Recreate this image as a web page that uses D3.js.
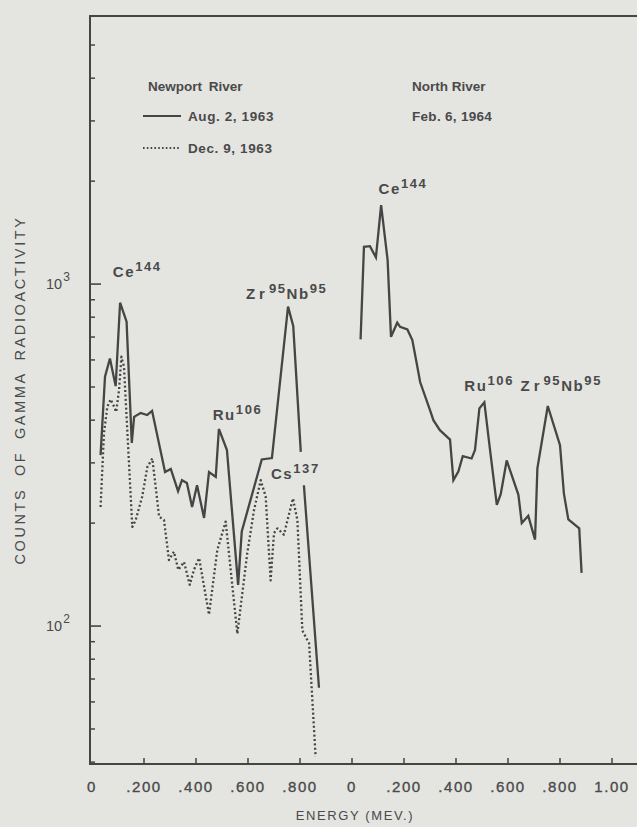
<!DOCTYPE html>
<html>
<head>
<meta charset="utf-8">
<script src="https://cdn.jsdelivr.net/npm/d3@7"></script>
<style>
  html, body { margin: 0; padding: 0; background: #e4e4e1; }
  svg { display: block; }
  text { font-family: "Liberation Sans", Arial, Helvetica, sans-serif; fill: #4a4a4a; }
</style>
</head>
<body>
<svg id="chart" width="637" height="827"></svg>
<script>
// ---------- DATA ----------
// Newport River, Aug. 2, 1963 (solid) — energy (MeV) / counts; null = break in the trace
const augEnergy = [0.033,0.050,0.069,0.091,0.108,0.133,0.153,0.162,0.187,0.212,0.231,0.281,0.303,0.331,0.346,0.365,0.385,0.404,0.431,0.450,0.476,0.488,0.519,0.562,0.576,0.653,0.692,0.754,0.774,0.803,0.809,0.815,0.873];
const augCounts = [316,536,606,503,882,776,343,409,420,414,426,282,288,248,267,262,223,258,207,282,273,377,327,132,189,307,310,859,754,323,null,258,66];

// Newport River, Dec. 9, 1963 (dotted)
const decEnergy = [0.033,0.046,0.059,0.072,0.085,0.093,0.104,0.113,0.123,0.155,0.168,0.193,0.213,0.232,0.245,0.258,0.277,0.296,0.315,0.332,0.354,0.376,0.392,0.412,0.450,0.482,0.514,0.559,0.597,0.623,0.649,0.668,0.687,0.700,0.713,0.738,0.773,0.790,0.809,0.835,0.860];
const decCounts  = [223,366,438,460,438,423,490,613,573,195,204,239,292,309,255,209,204,156,165,146,154,132,146,158,108,167,202,95,163,218,267,239,136,187,193,185,236,204,97,89,41.5];

// North River, Feb. 6, 1964 (solid, right panel)
const febEnergy = [0.033,0.046,0.069,0.092,0.112,0.137,0.150,0.174,0.185,0.213,0.232,0.249,0.262,0.300,0.313,0.338,0.377,0.390,0.409,0.426,0.460,0.473,0.490,0.509,0.531,0.557,0.572,0.595,0.640,0.653,0.678,0.704,0.713,0.753,0.800,0.815,0.832,0.874,0.883];
const febCounts  = [689,1285,1291,1197,1702,1175,701,771,750,737,686,586,517,428,400,374,351,267,283,314,309,327,433,451,327,226,243,305,242,200,210,179,289,440,338,244,205,193,143];

// Axis ticks
const leftTickValues  = [0, 0.2, 0.4, 0.6, 0.8];
const leftTickLabels  = ["0", ".200", ".400", ".600", ".800"];
const rightTickValues = [0, 0.2, 0.4, 0.6, 0.8, 1.0];
const rightTickLabels = ["0", ".200", ".400", ".600", ".800", "1.00"];
const yMinorTicks = [40,50,60,70,80,90,200,300,400,500,600,700,800,900,2000,3000,4000,5000];
const yMajorTicks = [100, 1000];
const yMajorLabels = [["10","2"],["10","3"]];

// Peak annotations: panel, energy, counts at label baseline start; parts [text, superscript?]
const peakLabels = [
  { panel: "L", e: 0.080, v: 1048, parts: [["Ce",false],["144",true]] },
  { panel: "L", e: 0.592, v: 905,  parts: [["Zr",false],["95",true],["Nb",false],["95",true]] },
  { panel: "L", e: 0.464, v: 400,  parts: [["Ru",false],["106",true]] },
  { panel: "L", e: 0.688, v: 270,  parts: [["Cs",false],["137",true]] },
  { panel: "R", e: 0.102, v: 1830, parts: [["Ce",false],["144",true]] },
  { panel: "R", e: 0.432, v: 488,  parts: [["Ru",false],["106",true]] },
  { panel: "R", e: 0.648, v: 488,  parts: [["Zr",false],["95",true],["Nb",false],["95",true]] }
];

// ---------- LAYOUT ----------
const ink = "#454545";
const frame = { left: 90, top: 16, right: 640, bottom: 764 };

const svg = d3.select("#chart");

const y = d3.scaleLog().domain([39.5, 6080]).range([frame.bottom, frame.top]);
const xL = d3.scaleLinear().domain([0, 1]).range([92, 352]);
const xR = d3.scaleLinear().domain([0, 1]).range([352, 612]);

// frame
svg.append("path")
  .attr("d", `M${frame.right},${frame.top} L${frame.left},${frame.top} L${frame.left},${frame.bottom} L${frame.right},${frame.bottom}`)
  .attr("fill", "none").attr("stroke", ink).attr("stroke-width", 2);

// y ticks (inside, pointing right)
svg.append("g").selectAll("line").data(yMinorTicks).join("line")
  .attr("x1", frame.left).attr("x2", frame.left + 5)
  .attr("y1", d => y(d)).attr("y2", d => y(d))
  .attr("stroke", ink).attr("stroke-width", 1.5);
svg.append("g").selectAll("line").data(yMajorTicks).join("line")
  .attr("x1", frame.left).attr("x2", frame.left + 11)
  .attr("y1", d => y(d)).attr("y2", d => y(d))
  .attr("stroke", ink).attr("stroke-width", 1.6);

// y major labels 10^2, 10^3
const yl = svg.append("g").selectAll("text").data(yMajorTicks).join("text")
  .attr("x", 46).attr("y", d => y(d) + 5)
  .attr("font-size", 14.5);
yl.append("tspan").text((d, i) => yMajorLabels[i][0]);
yl.append("tspan").attr("dy", -8).attr("dx", 1).attr("font-size", 12).text((d, i) => yMajorLabels[i][1]);

// y title
svg.append("text")
  .attr("transform", `translate(25, ${390}) rotate(-90)`)
  .attr("text-anchor", "middle")
  .attr("font-size", 14.5)
  .attr("letter-spacing", 2.6)
  .attr("word-spacing", 5)
  .text("COUNTS OF GAMMA RADIOACTIVITY");

// x ticks & labels
function xAxisPart(scale, vals, labels, skipFirstTick) {
  const g = svg.append("g");
  g.selectAll("line").data(vals.filter((d, i) => !(skipFirstTick && i === 0))).join("line")
    .attr("x1", d => scale(d)).attr("x2", d => scale(d))
    .attr("y1", frame.bottom).attr("y2", frame.bottom - 6)
    .attr("stroke", ink).attr("stroke-width", 1.5);
  g.selectAll("text").data(vals).join("text")
    .attr("x", d => scale(d)).attr("y", frame.bottom + 28)
    .attr("text-anchor", "middle")
    .attr("font-size", 15)
    .attr("letter-spacing", 1.6)
    .attr("stroke", "#4a4a4a").attr("stroke-width", 0.35)
    .text((d, i) => labels[i]);
}
xAxisPart(xL, leftTickValues, leftTickLabels, true);
xAxisPart(xR, rightTickValues, rightTickLabels, false);

// x title
svg.append("text")
  .attr("x", 355).attr("y", 820)
  .attr("text-anchor", "middle")
  .attr("font-size", 13)
  .attr("letter-spacing", 1.6)
  .text("ENERGY (MEV.)");

// ---------- SERIES ----------
const augData = augEnergy.map((e, i) => ({ e, v: augCounts[i] }));
const decData = decEnergy.map((e, i) => ({ e, v: decCounts[i] }));
const febData = febEnergy.map((e, i) => ({ e, v: febCounts[i] }));

const lineL = d3.line().defined(d => d.v != null).x(d => xL(d.e)).y(d => y(d.v));
const lineR = d3.line().defined(d => d.v != null).x(d => xR(d.e)).y(d => y(d.v));

svg.append("path").datum(decData).attr("d", lineL)
  .attr("fill", "none").attr("stroke", ink).attr("stroke-width", 2.3)
  .attr("stroke-dasharray", "2,2.4").attr("stroke-linejoin", "round");

svg.append("path").datum(augData).attr("d", lineL)
  .attr("fill", "none").attr("stroke", ink).attr("stroke-width", 2.3)
  .attr("stroke-linejoin", "miter");

svg.append("path").datum(febData).attr("d", lineR)
  .attr("fill", "none").attr("stroke", ink).attr("stroke-width", 2.3)
  .attr("stroke-linejoin", "miter");

// ---------- PEAK LABELS ----------
peakLabels.forEach(p => {
  const sx = p.panel === "L" ? xL : xR;
  const t = svg.append("text").attr("x", sx(p.e)).attr("y", y(p.v))
    .attr("font-size", 15).attr("font-weight", "bold").attr("letter-spacing", 1.6);
  let up = false;
  p.parts.forEach(([s, sup]) => {
    const ts = t.append("tspan").text(s);
    if (sup && !up) { ts.attr("dy", -6).attr("font-size", 13); up = true; }
    else if (sup) { ts.attr("font-size", 13); }
    else if (!sup && up) { ts.attr("dy", 6); up = false; }
    if (s === "Zr") { ts.attr("letter-spacing", 4); }
  });
});

// ---------- LEGEND ----------
const leg = svg.append("g").attr("font-size", 13.5).attr("font-weight", "bold");
leg.append("text").attr("x", 148).attr("y", 91).attr("word-spacing", 3).text("Newport River");
leg.append("line").attr("x1", 143).attr("x2", 181).attr("y1", 116).attr("y2", 116)
  .attr("stroke", ink).attr("stroke-width", 1.8);
leg.append("text").attr("x", 188).attr("y", 121).attr("letter-spacing", 0.6).text("Aug. 2, 1963");
leg.append("line").attr("x1", 143).attr("x2", 181).attr("y1", 148).attr("y2", 148)
  .attr("stroke", ink).attr("stroke-width", 1.8).attr("stroke-dasharray", "1.6,2.2");
leg.append("text").attr("x", 188).attr("y", 153).attr("letter-spacing", 0.6).text("Dec. 9, 1963");
leg.append("text").attr("x", 412).attr("y", 91).text("North River");
leg.append("text").attr("x", 412).attr("y", 121).attr("letter-spacing", 0.3).text("Feb. 6, 1964");
</script>
</body>
</html>
